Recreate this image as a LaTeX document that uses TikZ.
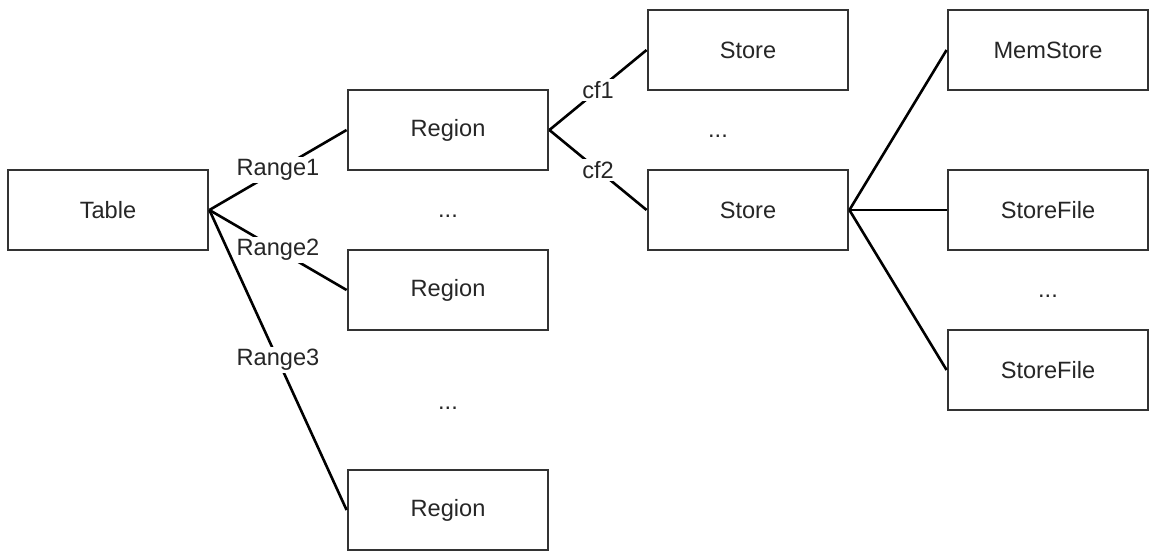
\documentclass[tikz,border=0pt]{standalone}
\usepackage{fontspec}
\setmainfont{Liberation Sans}
\definecolor{boxline}{HTML}{333333}
\definecolor{txt}{HTML}{262626}
\begin{document}
\begin{tikzpicture}[x=0.5pt,y=-0.5pt,
  box/.style={draw=boxline, line width=1.4pt, fill=white, minimum width=100pt, minimum height=40pt, inner sep=0pt, text=txt, font=\fontsize{11.8}{14}\selectfont},
  conn/.style={draw=black, line width=1.3pt},
  lbl/.style={fill=white, inner sep=1pt, text=txt, font=\fontsize{11.8}{14}\selectfont},
  dots/.style={inner sep=0pt, text=txt, font=\fontsize{11.8}{14}\selectfont}]
\useasboundingbox (0,0) rectangle (1164,558);
\node[box] (table) at (108,210) {Table};
\node[box] (r1) at (448,130) {Region};
\node[box] (r2) at (448,290) {Region};
\node[box] (r3) at (448,510) {Region};
\node[box] (s1) at (748,50) {Store};
\node[box] (s2) at (748,210) {Store};
\node[box] (m) at (1048,50) {MemStore};
\node[box] (f1) at (1048,210) {StoreFile};
\node[box] (f2) at (1048,370) {StoreFile};
\node[dots] (d1) at (448,216) {...};
\node[dots] (d2) at (448,408) {...};
\node[dots] (d3) at (718,136) {...};
\node[dots] (d4) at (1048,296) {...};
\draw[conn] (table.east) -- node[lbl] {Range1} (r1.west);
\draw[conn] (table.east) -- node[lbl] {Range2} (r2.west);
\draw[conn] (table.east) -- node[lbl] {Range3} (r3.west);
\draw[conn] (r1.east) -- node[lbl] {cf1} (s1.west);
\draw[conn] (r1.east) -- node[lbl] {cf2} (s2.west);
\draw[conn] (s2.east) -- (m.west);
\draw[conn] (s2.east) -- (f1.west);
\draw[conn] (s2.east) -- (f2.west);
\end{tikzpicture}
\end{document}
